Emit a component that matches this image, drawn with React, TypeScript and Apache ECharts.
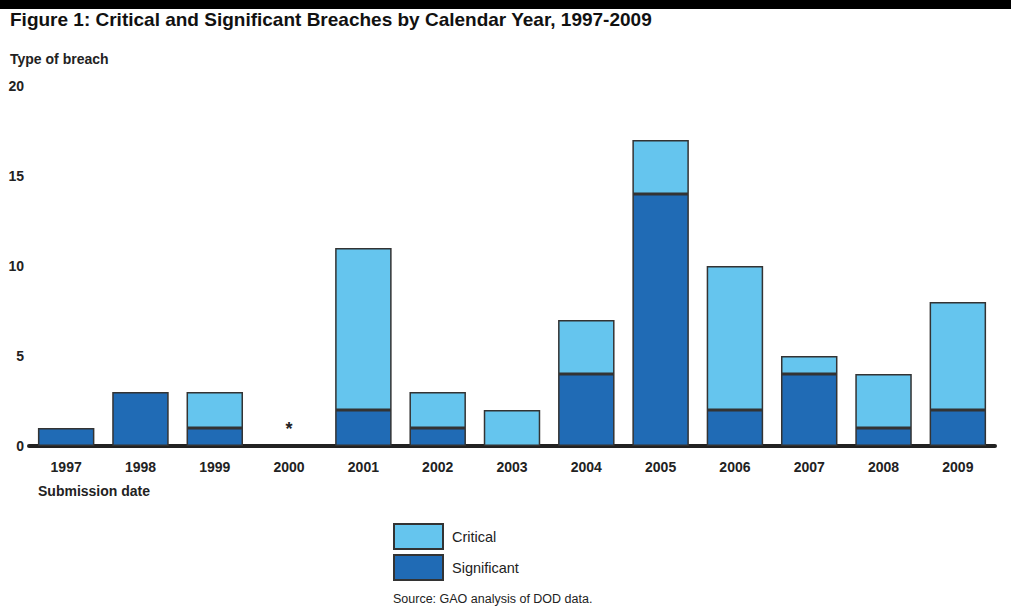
import React, { useEffect, useRef } from "react";
import * as echarts from "echarts";

const years = ["1997", "1998", "1999", "2000", "2001", "2002", "2003", "2004", "2005", "2006", "2007", "2008", "2009"];
const significant = [1, 3, 1, 0, 2, 1, 0, 4, 14, 2, 4, 1, 2];
const critical = [0, 0, 2, 0, 9, 2, 2, 3, 3, 8, 1, 3, 6];
const noDataYears = ["2000"];
const yTicks = [0, 5, 10, 15, 20];

const LIGHT = "#65C5EE";
const DARK = "#206BB5";
const FONT = "'Liberation Sans', Arial, Helvetica, sans-serif";

export default function App() {
  const ref = useRef<HTMLDivElement>(null);
  useEffect(() => {
    if (!ref.current) return;
    const chart = echarts.init(ref.current, undefined, { renderer: "svg" });
    const sigData = years.map((y, i) => {
      if (noDataYears.includes(y)) {
        return {
          value: 0,
          itemStyle: { borderWidth: 0 },
          label: { show: true, position: "top", formatter: "*", distance: 8, fontSize: 18, fontWeight: "bold", color: "#222", fontFamily: FONT },
        };
      }
      return significant[i] === 0 ? "-" : significant[i];
    });
    const critData = critical.map((v) => (v === 0 ? "-" : v));
    chart.setOption({
      animation: false,
      textStyle: { fontFamily: FONT },
      grid: { left: 29, top: 86, width: 966, height: 360 },
      legend: {
        orient: "vertical",
        left: 393,
        top: 523,
        padding: 0,
        itemWidth: 49,
        itemHeight: 25,
        itemGap: 4,
        icon: "rect",
        data: ["Critical", "Significant"],
        textStyle: { fontSize: 14.5, color: "#222", fontFamily: FONT, padding: [0, 0, 0, 4] },
      },
      xAxis: {
        type: "category",
        data: years,
        axisTick: { show: false },
        axisLine: { lineStyle: { color: "#222", width: 4 } },
        axisLabel: { margin: 14, fontSize: 14, fontWeight: "bold", color: "#222", fontFamily: FONT },
      },
      yAxis: {
        type: "value",
        min: yTicks[0],
        max: yTicks[yTicks.length - 1],
        interval: 5,
        splitLine: { show: false },
        axisLine: { show: false },
        axisTick: { show: false },
        axisLabel: { margin: 5, fontSize: 14, fontWeight: "bold", color: "#222", fontFamily: FONT },
      },
      series: [
        {
          name: "Significant",
          type: "bar",
          stack: "total",
          data: sigData,
          barCategoryGap: "24%",
          itemStyle: { color: DARK, borderColor: "#333", borderWidth: 1.5 },
        },
        {
          name: "Critical",
          type: "bar",
          stack: "total",
          data: critData,
          barCategoryGap: "24%",
          itemStyle: { color: LIGHT, borderColor: "#333", borderWidth: 1.5 },
        },
      ],
      graphic: [
        { type: "rect", left: 0, top: 0, shape: { width: 1011, height: 9 }, style: { fill: "#000" } },
        {
          type: "text",
          left: 10,
          top: 10,
          style: { text: "Figure 1: Critical and Significant Breaches by Calendar Year, 1997-2009", font: `bold 19px ${FONT}`, fill: "#111" },
        },
        { type: "text", left: 10, top: 52, style: { text: "Type of breach", font: `bold 14px ${FONT}`, fill: "#222" } },
        { type: "text", left: 38, top: 484, style: { text: "Submission date", font: `bold 14px ${FONT}`, fill: "#222" } },
        { type: "text", left: 393, top: 592, style: { text: "Source: GAO analysis of DOD data.", font: `12.5px ${FONT}`, fill: "#222" } },
      ],
    });
    return () => chart.dispose();
  }, []);
  return <div ref={ref} style={{ position: "fixed", left: 0, top: 0, width: 1011, height: 613, background: "#fff" }} />;
}
